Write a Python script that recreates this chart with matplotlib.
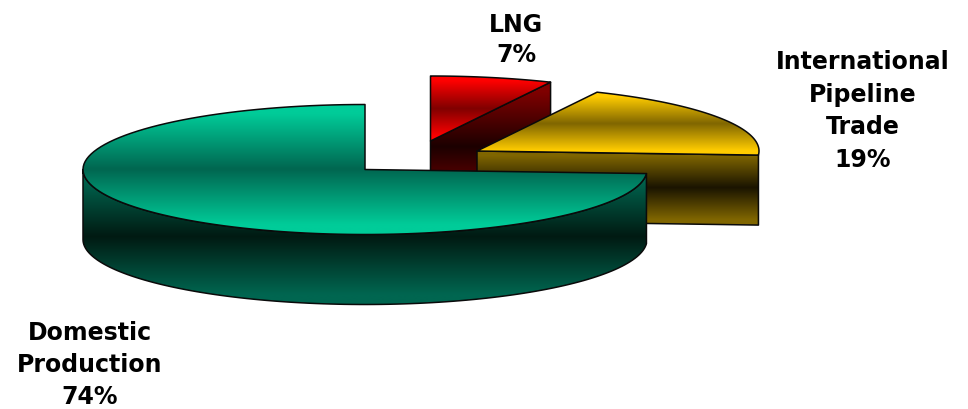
import matplotlib
matplotlib.use('Agg')
import matplotlib.pyplot as plt
from matplotlib.colors import LinearSegmentedColormap
from matplotlib.patches import Polygon
import numpy as np

# Shares of gas supply, clockwise from 12 o'clock
slices = ['LNG', 'International\nPipeline\nTrade', 'Domestic\nProduction']
shares = [7, 19, 74]

# Pie geometry in pixels
RX = 282
RY = 65
DEPTH = 70

plt.rcParams['font.family'] = ['DejaVu Sans']


def rim(cx, cy, a0, a1, n=120):
    # angles are in degrees, clockwise from the top of the pie
    t = np.radians(np.linspace(a0, a1, n))
    return np.column_stack([cx + RX * np.sin(t), cy - RY * np.cos(t)])


def shaded(ax, pts, c_edge, c_mid, zorder):
    # vertical gradient clipped to the face, flat for a short way at both ends
    cmap = LinearSegmentedColormap.from_list(
        'face', [(0, c_edge), (0.07, c_edge), (0.5, c_mid), (0.93, c_edge), (1, c_edge)])
    ys = pts[:, 1]
    grad = np.linspace(0, 1, 256).reshape(-1, 1)
    im = ax.imshow(grad, cmap=cmap, aspect='auto', zorder=zorder, interpolation='bilinear',
                   extent=[pts[:, 0].min(), pts[:, 0].max(), ys.max(), ys.min()])
    outline = Polygon(pts, closed=True, fill=False, edgecolor='#0a0a0a', lw=1.1, zorder=zorder + 0.1,
                      joinstyle='round')
    ax.add_patch(outline)
    im.set_clip_path(outline)


fig = plt.figure(figsize=(9.68, 4.10), dpi=100)
ax = fig.add_axes([0, 0, 1, 1])

edges = np.cumsum([0] + shares) * 3.6

# LNG
cx, cy = 430.5, 142
end = rim(cx, cy, edges[1], edges[1], 1)[0]
side = np.array([[cx, cy], end, end + [0, DEPTH], [cx, cy + DEPTH]])
shaded(ax, side, '#800000', '#1c0000', 1)
top = np.vstack([[cx, cy], rim(cx, cy, edges[0], edges[1])])
shaded(ax, top, '#ff0000', '#800000', 2)

# International pipeline trade
cx, cy = 477, 152
end = rim(cx, cy, edges[2], edges[2], 1)[0]
side = np.array([[cx, cy], end, end + [0, DEPTH], [cx, cy + DEPTH]])
shaded(ax, side, '#806600', '#1a1400', 3)
top = np.vstack([[cx, cy], rim(cx, cy, edges[1], edges[2])])
shaded(ax, top, '#ffcc00', '#806600', 4)

# Domestic production
cx, cy = 365, 170.5
arc = rim(cx, cy, edges[2], 270)
side = np.vstack([arc, arc[::-1] + [0, DEPTH]])
shaded(ax, side, '#006650', '#001a12', 5)
top = np.vstack([[cx, cy], rim(cx, cy, edges[2], edges[3])])
shaded(ax, top, '#00cc99', '#006650', 6)

ax.set_xlim(0, 968)
ax.set_ylim(410, 0)
ax.axis('off')

label_style = dict(ha='center', va='center', fontsize=17, fontweight='bold', color='black', zorder=10)
ax.text(516, 40, f'{slices[0]}\n{shares[0]}%', linespacing=1.33, **label_style)
ax.text(863, 111, f'{slices[1]}\n{shares[1]}%', linespacing=1.45, **label_style)
ax.text(90, 365, f'{slices[2]}\n{shares[2]}%', linespacing=1.42, **label_style)

fig.savefig('out.png', dpi=100)
